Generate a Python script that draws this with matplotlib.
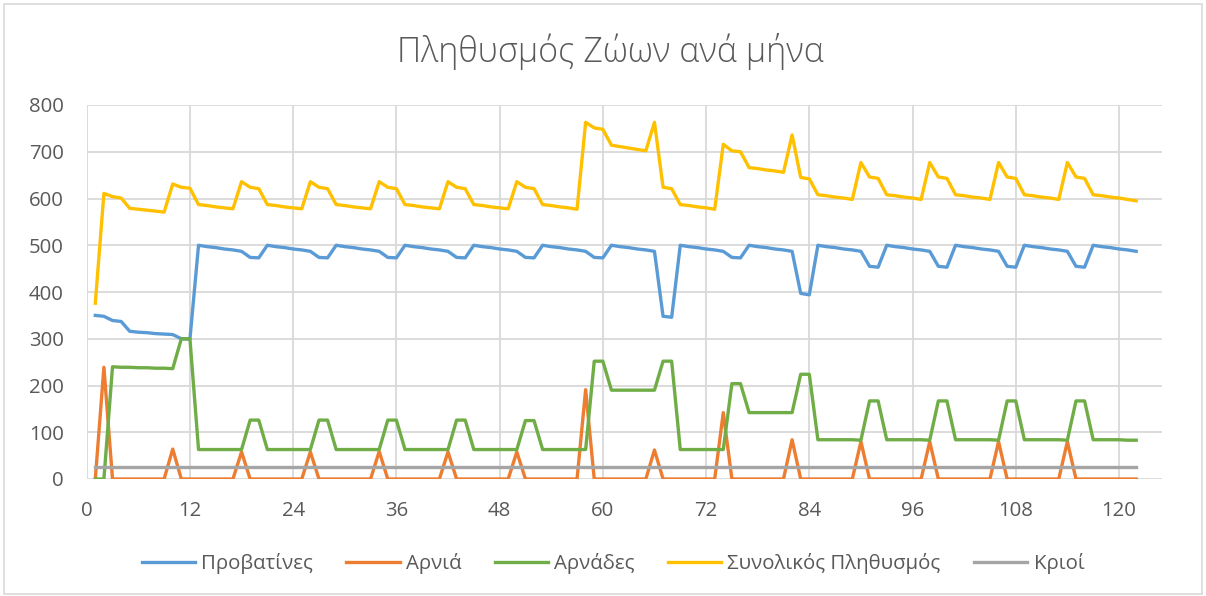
import matplotlib.pyplot as plt
from matplotlib.patches import Rectangle

plt.rcParams['font.family'] = ['Open Sans', 'DejaVu Sans']

months = list(range(1, 123))

# Προβατίνες
provatines = [350, 348, 339, 337, 316, 314, 313, 311, 310, 309, 300, 299,
              500, 497, 495, 492, 490, 487, 474, 473,
              500, 497, 495, 492, 490, 487, 474, 473,
              500, 497, 495, 492, 490, 487, 474, 473,
              500, 497, 495, 492, 490, 487, 474, 473,
              500, 497, 495, 492, 490, 487, 474, 473,
              500, 497, 495, 492, 490, 487, 474, 473,
              500, 497, 495, 492, 490, 487, 348, 346,
              500, 497, 495, 492, 490, 487, 474, 473,
              500, 497, 495, 492, 490, 487, 397, 394,
              500, 497, 495, 492, 490, 487, 455, 453,
              500, 497, 495, 492, 490, 487, 455, 453,
              500, 497, 495, 492, 490, 487, 455, 453,
              500, 497, 495, 492, 490, 487, 455, 453,
              500, 497, 495, 492, 490, 487]

# Αρνιά
arnia = [0, 239, 0, 0, 0, 0, 0, 0, 0, 64, 0, 0,
         0, 0, 0, 0, 0, 58, 0, 0,
         0, 0, 0, 0, 0, 58, 0, 0,
         0, 0, 0, 0, 0, 59, 0, 0,
         0, 0, 0, 0, 0, 58, 0, 0,
         0, 0, 0, 0, 0, 58, 0, 0,
         0, 0, 0, 0, 0, 191, 0, 0,
         0, 0, 0, 0, 0, 62, 0, 0,
         0, 0, 0, 0, 0, 142, 0, 0,
         0, 0, 0, 0, 0, 84, 0, 0,
         0, 0, 0, 0, 0, 80, 0, 0,
         0, 0, 0, 0, 0, 80, 0, 0,
         0, 0, 0, 0, 0, 80, 0, 0,
         0, 0, 0, 0, 0, 80, 0, 0,
         0, 0, 0, 0, 0, 0]

# Αρνάδες
arnades = [0, 0, 240, 239, 239, 238, 238, 237, 237, 236, 300, 300,
           63, 63, 63, 63, 63, 63, 126, 126,
           63, 63, 63, 63, 63, 63, 126, 126,
           63, 63, 63, 63, 63, 63, 126, 126,
           63, 63, 63, 63, 63, 63, 126, 126,
           63, 63, 63, 63, 63, 63, 125, 125,
           63, 63, 63, 63, 63, 63, 252, 252,
           190, 190, 190, 190, 190, 190, 252, 252,
           63, 63, 63, 63, 63, 63, 204, 204,
           142, 142, 142, 142, 142, 142, 224, 224,
           84, 84, 84, 84, 84, 83, 167, 167,
           84, 84, 84, 84, 84, 83, 167, 167,
           84, 84, 84, 84, 84, 83, 167, 167,
           84, 84, 84, 84, 84, 83, 167, 167,
           84, 84, 84, 84, 83, 83]

# Συνολικός Πληθυσμός
synolo = [376, 611, 604, 601, 579, 577, 575, 573, 571, 631, 624, 622,
          587, 585, 582, 580, 578, 636, 624, 621,
          587, 585, 582, 580, 578, 636, 624, 621,
          587, 585, 582, 580, 578, 636, 624, 621,
          587, 585, 582, 580, 578, 636, 624, 621,
          587, 585, 582, 580, 578, 636, 624, 621,
          587, 585, 582, 580, 577, 763, 751, 748,
          714, 711, 708, 705, 702, 763, 624, 621,
          587, 585, 582, 580, 577, 716, 702, 700,
          666, 664, 661, 659, 656, 736, 645, 642,
          608, 606, 603, 601, 598, 677, 646, 643,
          608, 606, 603, 601, 598, 677, 646, 643,
          608, 606, 603, 601, 598, 677, 646, 643,
          608, 606, 603, 601, 598, 677, 646, 643,
          608, 606, 603, 601, 598, 595]

# Κριοί
krioi = [25] * 122

series = [("Προβατίνες", provatines, "#5B9BD5"),
          ("Αρνιά", arnia, "#ED7D31"),
          ("Αρνάδες", arnades, "#70AD47"),
          ("Συνολικός Πληθυσμός", synolo, "#FFC000"),
          ("Κριοί", krioi, "#A5A5A5")]

txt_col = "#595959"
grid_col = "#D9D9D9"

fig = plt.figure(figsize=(12.06, 5.96), dpi=100)
ax = fig.add_axes([86.7 / 1206, 1 - 479 / 596, (1162 - 86.7) / 1206, (479 - 105) / 596])

for name, vals, col in series:
    ax.plot(months, vals, color=col, lw=2.4, label=name, solid_joinstyle="round")

ax.set_xlim(0, 125)
ax.set_ylim(0, 800)
ax.set_xticks(range(0, 121, 12))
ax.set_yticks(range(0, 801, 100))
ax.grid(True, color=grid_col, lw=1.3)
ax.set_axisbelow(True)
for s in ax.spines.values():
    s.set_visible(False)
ax.tick_params(length=0, labelsize=14.7, labelcolor=txt_col)
ax.tick_params(axis="x", pad=15.5)
ax.tick_params(axis="y", pad=16.5)

fig.text(610 / 1206, 1 - 51 / 596, "Πληθυσμός Ζώων ανά μήνα", ha="center", va="center",
         fontsize=24.5, color=txt_col, fontweight="light")

fig.legend(loc="center", bbox_to_anchor=(613 / 1206, 1 - 564 / 596), ncol=5, frameon=False,
           fontsize=14.7, handlelength=2.6, handletextpad=0.3, columnspacing=1.65,
           labelcolor=txt_col)

fig.patches.append(Rectangle((4 / 1206, 2 / 596), 1198 / 1206, 590 / 596, transform=fig.transFigure,
                             fill=False, edgecolor=grid_col, lw=1.2))

fig.savefig("out.png", dpi=100)
